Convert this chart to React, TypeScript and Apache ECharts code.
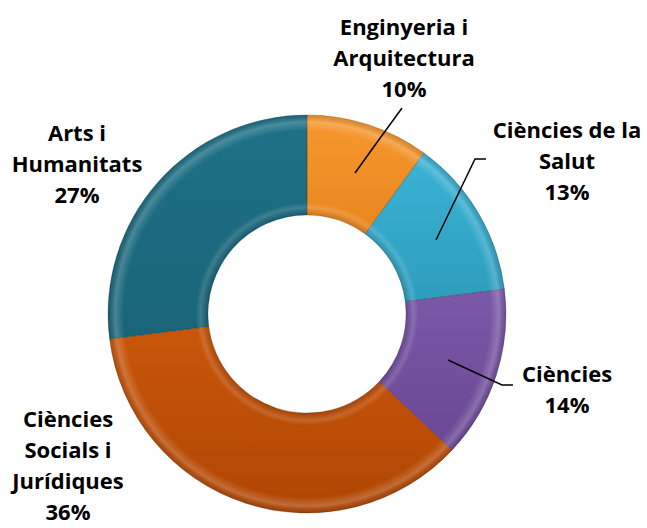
import React, { useEffect, useRef } from "react";
import * as echarts from "echarts";

const categories = [
  "Enginyeria i\nArquitectura",
  "Ciències de la\nSalut",
  "Ciències",
  "Ciències\nSocials i\nJurídiques",
  "Arts i\nHumanitats",
];
const shares = [10, 13, 14, 36, 27];
const colors = ["#F7982F", "#39B3D5", "#7B58A8", "#C9560A", "#1E7187"];
const darkColors = ["#E8861E", "#2E9DBD", "#6A4894", "#B04604", "#1A6478"];

// label layout (pixels): [x, y] of label block centre, optional leader line points
const labelPos: number[][] = [
  [404, 57],
  [567, 160],
  [567, 388],
  [68, 464],
  [77, 163],
];
const leaderLines: (number[][] | null)[] = [
  [[355, 173], [378, 141], [402, 108]],
  [[436, 240], [475, 159], [486, 159]],
  [[448, 360], [502, 385], [513, 385]],
  null,
  null,
];

export default function App() {
  const ref = useRef<HTMLDivElement>(null);
  useEffect(() => {
    document.body.style.margin = "0";
    const chart = echarts.init(ref.current!, null, { renderer: "svg" });
    const cx = 307;
    const cy = 314;
    const base = categories.map((name, i) => ({
      name,
      value: shares[i],
      itemStyle: {
        color: {
          type: "linear",
          x: 0,
          y: 0,
          x2: 0,
          y2: 1,
          colorStops: [
            { offset: 0, color: colors[i] },
            { offset: 1, color: darkColors[i] },
          ],
        },
      },
    }));
    const overlay = categories.map((name, i) => ({ name, value: shares[i] }));
    const labelled = categories.map((name, i) => ({
      name,
      value: shares[i],
      labelLine: { show: !!leaderLines[i] },
    }));
    const common = {
      type: "pie",
      center: [cx, cy],
      radius: [99, 199],
      startAngle: 90,
      clockwise: true,
      silent: true,
      emphasis: { disabled: true },
    };
    chart.setOption({
      animation: false,
      backgroundColor: "#ffffff",
      series: [
        {
          ...common,
          z: 2,
          data: base,
          itemStyle: { borderColor: "rgba(0,0,0,0.25)", borderWidth: 0.8 },
          label: { show: false },
          labelLine: { show: false },
        },
        {
          ...common,
          z: 3,
          data: overlay,
          label: { show: false },
          labelLine: { show: false },
          itemStyle: {
            color: {
              type: "radial",
              x: cx,
              y: cy,
              r: 199,
              global: true,
              colorStops: [
                { offset: 0.0, color: "rgba(255,255,255,0)" },
                { offset: 0.5, color: "rgba(0,0,0,0.12)" },
                { offset: 0.535, color: "rgba(255,255,255,0.14)" },
                { offset: 0.56, color: "rgba(255,255,255,0)" },
                { offset: 0.92, color: "rgba(255,255,255,0)" },
                { offset: 0.965, color: "rgba(255,255,255,0.2)" },
                { offset: 1.0, color: "rgba(0,0,0,0.1)" },
              ],
            },
          },
        },
        {
          ...common,
          z: 4,
          data: labelled,
          itemStyle: { color: "rgba(0,0,0,0)" },
          label: {
            show: true,
            formatter: "{b}\n{d}%",
            fontFamily: "'Open Sans', Lato, sans-serif",
            fontWeight: "bold",
            fontSize: 22,
            lineHeight: 31,
            color: "#000000",
            align: "center",
            overflow: "none",
          },
          labelLine: { show: true, lineStyle: { color: "#000000", width: 1.5 } },
          labelLayout: (params: any) => {
            const i = params.dataIndex;
            const out: any = {
              x: labelPos[i][0],
              y: labelPos[i][1],
              align: "center",
              verticalAlign: "middle",
            };
            if (leaderLines[i]) out.labelLinePoints = leaderLines[i];
            return out;
          },
        },
      ],
    });
    return () => chart.dispose();
  }, []);
  return <div ref={ref} style={{ width: 647, height: 528 }} />;
}
